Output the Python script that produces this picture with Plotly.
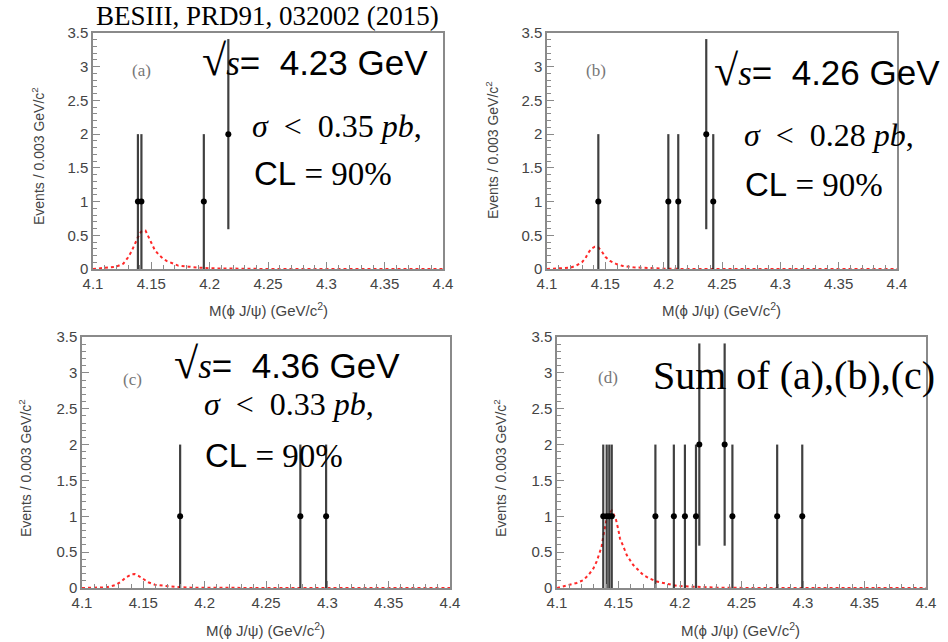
import plotly.graph_objects as go

W, H = 948, 642

# ---------------- data ----------------
a_x = [4.1385, 4.1415, 4.195, 4.216]
a_n = [1, 1, 1, 2]
a_err = [1, 1, 1, 1.41]

b_x = [4.144, 4.204, 4.2125, 4.2365, 4.2425]
b_n = [1, 1, 1, 2, 1]
b_err = [1, 1, 1, 1.41, 1]

c_x = [4.180, 4.278, 4.299]
c_n = [1, 1, 1]
c_err = [1, 1, 1]

d_x = [4.1376, 4.1404, 4.1425, 4.1445, 4.180, 4.195, 4.204, 4.213, 4.2157, 4.2363, 4.2426, 4.279, 4.2994]
d_n = [1, 1, 1, 1, 1, 1, 1, 1, 2, 2, 1, 1, 1]
d_err = [1, 1, 1, 1, 1, 1, 1, 1, 1.41, 1.41, 1, 1, 1]

a_curve_x = [4.100, 4.113, 4.120, 4.126, 4.130, 4.133, 4.136, 4.138, 4.140, 4.142, 4.145, 4.147,
             4.149, 4.151, 4.153, 4.156, 4.159, 4.163, 4.168, 4.173, 4.182, 4.190, 4.202, 4.220,
             4.250, 4.300, 4.350, 4.400]
a_curve_y = [0, 0.02, 0.035, 0.08, 0.17, 0.26, 0.36, 0.45, 0.53, 0.56, 0.57, 0.50,
             0.43, 0.36, 0.28, 0.22, 0.17, 0.12, 0.08, 0.05, 0.035, 0.02, 0.01, 0.005,
             0, 0, 0, 0]

b_curve_x = [4.100, 4.120, 4.125, 4.130, 4.133, 4.135, 4.138, 4.141, 4.144, 4.147, 4.150, 4.154,
             4.160, 4.165, 4.174, 4.185, 4.200, 4.220, 4.250, 4.300, 4.350, 4.400]
b_curve_y = [0, 0.02, 0.05, 0.10, 0.16, 0.23, 0.30, 0.33, 0.32, 0.26, 0.18, 0.12,
             0.07, 0.045, 0.025, 0.015, 0.005, 0, 0, 0, 0, 0]

c_curve_x = [4.100, 4.111, 4.120, 4.127, 4.132, 4.136, 4.1405, 4.143, 4.146, 4.150, 4.154, 4.1595,
             4.166, 4.176, 4.189, 4.210, 4.250, 4.300, 4.350, 4.400]
c_curve_y = [0, 0, 0.01, 0.04, 0.09, 0.15, 0.19, 0.195, 0.17, 0.125, 0.08, 0.045,
             0.03, 0.015, 0.005, 0, 0, 0, 0, 0]

d_curve_x = [4.100, 4.108, 4.116, 4.1214, 4.1255, 4.1295, 4.1323, 4.1344, 4.1363, 4.1376, 4.139,
             4.1404, 4.1425, 4.1445, 4.1463, 4.148, 4.1499, 4.1512, 4.1539, 4.1567, 4.1593, 4.162,
             4.1661, 4.1702, 4.1756, 4.1811, 4.1892, 4.1973, 4.2081, 4.230, 4.260, 4.300, 4.350, 4.400]
d_curve_y = [0, 0.03, 0.07, 0.11, 0.18, 0.27, 0.37, 0.48, 0.58, 0.72, 0.88,
             0.97, 1.04, 1.08, 1.02, 0.95, 0.81, 0.69, 0.58, 0.46, 0.39, 0.32,
             0.25, 0.18, 0.13, 0.09, 0.06, 0.03, 0.02, 0.005, 0, 0, 0, 0]

x_range = [4.1, 4.4]
y_range = [0, 3.5]
x_title = "M(ϕ J/ψ) (GeV/c<sup>2</sup>)"
y_title = "Events / 0.003 GeV/c<sup>2</sup>"

SANS = "Liberation Sans, Arial, sans-serif"
SERIF = "Liberation Serif, Times New Roman, serif"

def px(x):
    return x / W

def py(y):
    return 1 - y / H

# panel frames in pixels: (left, right, top, bottom)
panels = [
    dict(data=(a_x, a_n, a_err), curve=(a_curve_x, a_curve_y), box=(93, 443, 33, 269),
         lab="(a)", lab_xy=(141, 70), xt_xy=(268, 310), yt_xy=(38, 156)),
    dict(data=(b_x, b_n, b_err), curve=(b_curve_x, b_curve_y), box=(547, 897, 33, 269),
         lab="(b)", lab_xy=(596, 70), xt_xy=(721, 310), yt_xy=(492, 150)),
    dict(data=(c_x, c_n, c_err), curve=(c_curve_x, c_curve_y), box=(82, 450, 337, 588),
         lab="(c)", lab_xy=(132, 379), xt_xy=(265, 629), yt_xy=(25, 468)),
    dict(data=(d_x, d_n, d_err), curve=(d_curve_x, d_curve_y), box=(557, 926, 337, 588),
         lab="(d)", lab_xy=(608, 378), xt_xy=(740, 629), yt_xy=(500, 468)),
]

fig = go.Figure()
layout = dict(width=W, height=H, margin=dict(l=0, r=0, t=0, b=0, autoexpand=False),
              paper_bgcolor="white", plot_bgcolor="white", showlegend=False)
annotations = []

def ann(text, x, y, size, family, color="black", xanchor="center", angle=0):
    annotations.append(dict(text=text, x=px(x), y=py(y), xref="paper", yref="paper",
                            showarrow=False, xanchor=xanchor, yanchor="middle", textangle=angle,
                            font=dict(family=family, size=size, color=color)))

for i, p in enumerate(panels):
    k = "" if i == 0 else str(i + 1)
    xa, ya = "x" + k, "y" + k
    l, r, t, b = p["box"]
    cx, cy = p["curve"]
    fig.add_trace(go.Scatter(x=cx, y=cy, xaxis=xa, yaxis=ya, mode="lines",
                             line=dict(color="rgb(255,40,40)", width=2, dash="dot"),
                             hoverinfo="skip"))
    dx, dn, de = p["data"]
    fig.add_trace(go.Scatter(x=dx, y=dn, xaxis=xa, yaxis=ya, mode="markers",
                             marker=dict(color="black", size=6),
                             error_y=dict(type="data", array=de, visible=True,
                                          color="rgba(30,30,30,0.85)", thickness=2.2, width=0)))
    axis_common = dict(showgrid=False, zeroline=False, showline=True, mirror=True,
                       linecolor="#8a8a8a", linewidth=1.5, ticks="inside", automargin=False,
                       tickcolor="#8a8a8a", ticklen=7, tickwidth=1,
                       tickfont=dict(family=SANS, size=15, color="#444"))
    layout["xaxis" + k] = dict(axis_common, domain=[px(l), px(r)], anchor=ya, range=x_range,
                               dtick=0.05, tick0=4.1,
                               minor=dict(ticks="inside", ticklen=4, dtick=0.01, tickcolor="#8a8a8a"))
    layout["yaxis" + k] = dict(axis_common, domain=[py(b), py(t)], anchor=xa, range=y_range,
                               dtick=0.5, tick0=0,
                               minor=dict(ticks="inside", ticklen=4, dtick=0.1, tickcolor="#8a8a8a"))
    ann(p["lab"], p["lab_xy"][0], p["lab_xy"][1], 17, SERIF, color="#777")
    ann(x_title, p["xt_xy"][0], p["xt_xy"][1], 15, SANS, color="#444")
    ann(y_title, p["yt_xy"][0], p["yt_xy"][1], 14, SANS, color="#444", angle=-90)

root = "<span style='font-family:Liberation Serif;font-size:44px'>√</span><span style='font-family:Liberation Serif'><i>s</i></span>"

def sig(v):
    return "<i>σ</i>  &lt;  " + v + " <i>pb</i>,"

CL = "<span style='font-family:Liberation Sans'>CL</span> = 90%"

# title
ann("BESIII, PRD91, 032002 (2015)", 267, 16, 27, SERIF)

# panel (a)
ann(root + "=  4.23 GeV", 200, 60, 35, SANS, xanchor="left")
ann(sig("0.35"), 250, 126, 32, SERIF, xanchor="left")
ann(CL, 252, 174, 33, SERIF, xanchor="left")
# panel (b)
ann(root + "=  4.26 GeV", 712, 70, 35, SANS, xanchor="left")
ann(sig("0.28"), 742, 135, 32, SERIF, xanchor="left")
ann(CL, 743, 185, 33, SERIF, xanchor="left")
# panel (c)
ann(root + "=  4.36 GeV", 172, 364, 35, SANS, xanchor="left")
ann(sig("0.33"), 202, 404, 32, SERIF, xanchor="left")
ann(CL, 203, 455, 33, SERIF, xanchor="left")
# panel (d)
ann("Sum of (a),(b),(c)", 651, 375, 40, SERIF, xanchor="left")

layout["annotations"] = annotations
fig.update_layout(**layout)
fig.write_html("out.html", config={"displayModeBar": False},
               post_script="document.body.style.margin='0px';")
